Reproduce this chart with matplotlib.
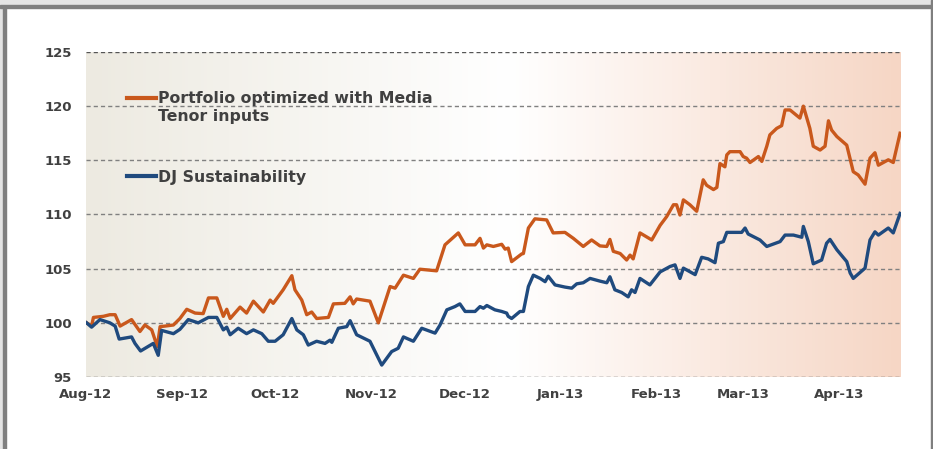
import numpy as np
import pandas as pd
import matplotlib
matplotlib.use("Agg")
import matplotlib.pyplot as plt
import matplotlib.dates as mdates
from matplotlib.colors import LinearSegmentedColormap
from matplotlib.patches import Rectangle

# days after 1 Aug 2012 and index level
start = pd.Timestamp("2012-08-01")

port_days = [0.2, 1.8, 2.4, 5.6, 7.7, 9.4, 11.0, 14.7, 17.4, 19.0, 21.2, 23.0, 23.9, 25.5,
             28.2, 30.3, 32.5, 35.2, 37.8, 39.5, 42.2, 44.3, 45.4, 46.5, 49.7, 51.8, 54.0,
             57.2, 59.4, 60.4, 63.6, 66.4, 67.4, 69.6, 71.2, 72.8, 74.4, 78.2, 79.8, 83.5,
             85.2, 86.2, 87.3, 91.6, 94.3, 98.1, 99.7, 102.4, 105.6, 107.7, 113.1, 115.8,
             120.1, 122.3, 125.5, 127.1, 128.2, 129.3, 131.4, 134.1, 135.2, 136.2, 137.3,
             140.5, 141.1, 142.7, 144.8, 148.6, 150.7, 154.5, 157.2, 160.4, 163.1, 165.8,
             168.0, 169.0, 170.1, 172.3, 174.4, 175.5, 176.5, 178.7, 182.5, 185.2, 187.3,
             189.5, 190.5, 191.6, 192.7, 194.8, 197.0, 199.1, 200.2, 202.4, 203.5, 204.5,
             206.1, 206.7, 207.7, 211.0, 212.0, 213.1, 214.2, 216.9, 218.0, 219.6, 220.6,
             222.8, 224.4, 225.5, 227.1, 230.3, 231.4, 233.5, 234.6, 236.8, 238.4, 239.5,
             240.5, 242.2, 245.4, 247.5, 249.1, 251.3, 252.9, 254.5, 255.6, 258.8, 260.4,
             262.6]
port_vals = [100.0, 99.7, 100.5, 100.6, 100.75, 100.75, 99.7, 100.3, 99.2, 99.8, 99.35, 97.8,
             99.65, 99.7, 99.8, 100.4, 101.25, 100.9, 100.85, 102.3, 102.3, 100.6, 101.25,
             100.4, 101.45, 100.9, 102.0, 101.0, 102.1, 101.8, 103.05, 104.35, 103.05, 102.1,
             100.75, 101.0, 100.4, 100.5, 101.75, 101.8, 102.4, 101.75, 102.2, 102.0, 100.0,
             103.35, 103.2, 104.4, 104.1, 104.95, 104.8, 107.2, 108.3, 107.2, 107.2, 107.8,
             106.9, 107.2, 107.05, 107.25, 106.8, 106.9, 105.65, 106.35, 106.4, 108.75, 109.6,
             109.5, 108.3, 108.35, 107.8, 107.05, 107.65, 107.1, 107.05, 107.7, 106.6, 106.4,
             105.8, 106.25, 105.9, 108.3, 107.65, 109.0, 109.8, 110.9, 110.9, 109.95, 111.35,
             110.9, 110.3, 113.2, 112.7, 112.3, 112.5, 114.7, 114.4, 115.5, 115.8, 115.8,
             115.35, 115.2, 114.8, 115.35, 114.9, 116.3, 117.35, 117.95, 118.2, 119.65,
             119.65, 118.9, 120.0, 117.95, 116.3, 115.95, 116.3, 118.65, 117.8, 117.2, 116.4,
             113.95, 113.65, 112.8, 115.2, 115.7, 114.55, 115.05, 114.8, 117.5]

dj_days = [0.2, 1.8, 4.5, 7.7, 9.4, 10.7, 14.7, 15.8, 17.6, 21.7, 23.3, 24.4, 28.2, 30.3,
           33.0, 36.2, 39.5, 42.2, 44.3, 45.4, 46.5, 49.1, 51.8, 54.0, 56.7, 58.8, 61.0,
           63.6, 66.4, 68.0, 70.1, 71.7, 74.4, 77.1, 78.7, 79.3, 81.4, 84.1, 85.2, 87.3,
           91.6, 95.4, 98.6, 100.7, 102.4, 105.6, 108.3, 112.6, 114.2, 116.4, 119.0, 120.6,
           122.3, 125.5, 127.1, 128.2, 129.3, 131.9, 134.1, 135.7, 136.2, 137.3, 140.0,
           141.1, 142.7, 144.3, 146.5, 148.1, 149.1, 151.3, 154.5, 156.7, 158.3, 160.4,
           162.6, 165.8, 168.0, 169.0, 170.6, 172.8, 174.9, 176.0, 177.1, 178.7, 181.9,
           185.2, 188.4, 190.0, 191.6, 192.7, 196.5, 198.6, 200.7, 202.9, 204.0, 205.6,
           206.7, 211.5, 212.6, 213.6, 217.4, 219.6, 223.9, 225.5, 228.2, 230.9, 231.4,
           233.0, 234.6, 237.3, 238.9, 240.0, 242.2, 245.4, 246.5, 247.5, 251.3, 252.9,
           254.5, 255.6, 258.8, 260.4, 262.6]
dj_vals = [100.0, 99.6, 100.3, 100.0, 99.7, 98.5, 98.7, 98.1, 97.4, 98.1, 97.0, 99.3, 99.0,
           99.4, 100.3, 100.0, 100.5, 100.5, 99.35, 99.6, 98.9, 99.5, 99.0, 99.35, 99.0, 98.3,
           98.3, 98.9, 100.4, 99.35, 98.9, 97.95, 98.3, 98.1, 98.4, 98.2, 99.5, 99.65, 100.2,
           98.9, 98.3, 96.1, 97.35, 97.65, 98.7, 98.3, 99.5, 99.05, 99.8, 101.2, 101.5,
           101.75, 101.05, 101.05, 101.5, 101.35, 101.6, 101.2, 101.05, 100.9, 100.6, 100.4,
           101.05, 101.05, 103.35, 104.4, 104.1, 103.8, 104.3, 103.5, 103.3, 103.2, 103.6,
           103.7, 104.1, 103.85, 103.7, 104.25, 103.05, 102.8, 102.4, 103.05, 102.8, 104.1,
           103.5, 104.7, 105.2, 105.35, 104.1, 105.05, 104.45, 106.05, 105.9, 105.55, 107.35,
           107.5, 108.35, 108.35, 108.75, 108.2, 107.65, 107.05, 107.5, 108.1, 108.1, 107.9,
           108.9, 107.5, 105.45, 105.8, 107.35, 107.7, 106.75, 105.65, 104.6, 104.1, 105.05,
           107.65, 108.4, 108.1, 108.75, 108.3, 110.1]

port_label = "Portfolio optimized with Media"
port_label2 = "Tenor inputs"
dj_label = "DJ Sustainability"
y_ticks = [95, 100, 105, 110, 115, 120, 125]
month_ticks = ["2012-08-01", "2012-09-01", "2012-10-01", "2012-11-01", "2012-12-01",
               "2013-01-01", "2013-02-01", "2013-03-01", "2013-04-01"]

orange = "#C9581C"
blue = "#1F4A7E"
text_col = "#404040"

port_dates = start + pd.to_timedelta(port_days, unit="D")
dj_dates = start + pd.to_timedelta(dj_days, unit="D")

fig = plt.figure(figsize=(9.33, 4.49), dpi=100)
ax = fig.add_axes([86 / 933, 1 - 377 / 449, 815 / 933, 325 / 449])

# frame of the slide
fig.patches.append(Rectangle((0, 1 - 6 / 449), 1, 6 / 449, transform=fig.transFigure,
                             color="#E4E4E4", zorder=0))
fig.patches.append(Rectangle((0, 1 - 8 / 449), 1, 2.5 / 449, transform=fig.transFigure,
                             color="#7F7F7F", zorder=1))
fig.patches.append(Rectangle((0, 0), 3 / 933, 1 - 6 / 449, transform=fig.transFigure,
                             color="#E4E4E4", zorder=0))
fig.patches.append(Rectangle((3 / 933, 0), 3 / 933, 1 - 6 / 449, transform=fig.transFigure,
                             color="#7F7F7F", zorder=1))
fig.patches.append(Rectangle((1 - 2.5 / 933, 0), 2.5 / 933, 1, transform=fig.transFigure,
                             color="#7F7F7F", zorder=1))

# gradient background
cmap = LinearSegmentedColormap.from_list(
    "bg", [(0.0, "#EDEAE1"), (0.52, "#FFFFFF"), (1.0, "#F6D6C5")])
grad = np.linspace(0, 1, 256).reshape(1, -1)
ax.imshow(grad, cmap=cmap, aspect="auto", extent=(0, 1, 0, 1),
          transform=ax.transAxes, zorder=0)

ax.plot(port_dates, port_vals, color=orange, lw=2.4, zorder=3, solid_joinstyle="round")
ax.plot(dj_dates, dj_vals, color=blue, lw=2.4, zorder=3, solid_joinstyle="round")

ax.set_xlim(start, start + pd.Timedelta(days=262.9))
ax.set_ylim(95, 125)
ax.set_yticks(y_ticks)
ax.set_xticks(pd.to_datetime(month_ticks))
ax.xaxis.set_major_formatter(mdates.DateFormatter("%b-%y"))

for s in ax.spines.values():
    s.set_visible(False)
for yv in y_ticks:
    ax.axhline(yv, color="#555555" if yv in (95, 125) else "#808080",
               lw=1.0, ls=(0, (3, 2.2)), zorder=2)

ax.tick_params(length=0, labelsize=9.5, colors=text_col)
ax.tick_params(axis="y", pad=10)
ax.tick_params(axis="x", pad=8)
for lab in ax.get_xticklabels() + ax.get_yticklabels():
    lab.set_fontweight("bold")

# legend
h1, = ax.plot([], [], color=orange, lw=3)
h2, = ax.plot([], [], color="none", lw=3)
h3, = ax.plot([], [], color=blue, lw=3)
leg_font = {"size": 11.3, "weight": "bold"}
leg1 = ax.legend([h1, h2], [port_label, port_label2], loc="upper left",
                 bbox_to_anchor=(0.0503, 0.88), frameon=False, prop=leg_font,
                 handlelength=1.85, handletextpad=0.1, labelspacing=0.2,
                 borderaxespad=0, borderpad=0)
for t in leg1.get_texts():
    t.set_color(text_col)
ax.add_artist(leg1)
leg2 = ax.legend([h3], [dj_label], loc="upper left", bbox_to_anchor=(0.0503, 0.637),
                 frameon=False, prop=leg_font, handlelength=1.85, handletextpad=0.1,
                 borderaxespad=0, borderpad=0)
for t in leg2.get_texts():
    t.set_color(text_col)

fig.savefig("out.png", dpi=100)
